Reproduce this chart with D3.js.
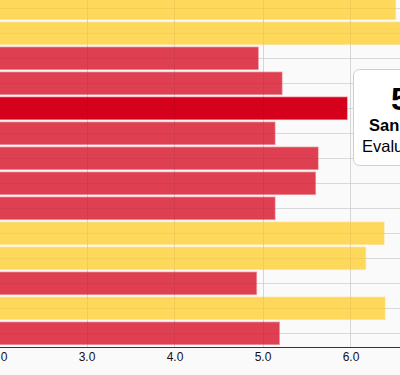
<!DOCTYPE html>
<html>
<head>
<meta charset="utf-8">
<script src="https://cdn.jsdelivr.net/npm/d3@7"></script>
<style>
  html, body { margin: 0; padding: 0; background: #fafafa; overflow: hidden; }
  svg { display: block; font-family: "Liberation Sans", Arial, Helvetica, sans-serif; }
</style>
</head>
<body>
<svg id="chart" width="400" height="375"></svg>
<script>
// ---- data ----
const categories = ["Row 1","Row 2","Row 3","Row 4","Row 5","Row 6","Row 7",
                    "Row 8","Row 9","Row 10","Row 11","Row 12","Row 13","Row 14"];
const values = [6.51, 6.75, 4.95, 5.22, 5.96, 5.14, 5.63, 5.60, 5.14, 6.38, 6.17, 4.93, 6.39, 5.19];
const groups = ["yellow","yellow","red","red","red","red","red","red","red","yellow","yellow","red","yellow","red"];
const highlighted = "Row 5";
const tickValues = [2, 3, 4, 5, 6];
const tooltipValue = "5.96";
const tooltipName = "San Francisco";
const tooltipLabel = "Evaluation score";

const colors = { yellow: "#fdd85b", red: "#de4052", highlight: "#d6001c" };

const svg = d3.select("#chart");

const x = d3.scaleLinear().domain([0, 7]).range([-177.5, 438.5]);
const y = d3.scaleBand().domain(categories).range([-4.2, 345.8])
  .paddingInner(0.12).paddingOuter(0.06);

// vertical grid
svg.append("g").selectAll("line").data(tickValues).join("line")
  .attr("x1", d => Math.round(x(d)) + 0.5).attr("x2", d => Math.round(x(d)) + 0.5)
  .attr("y1", 0).attr("y2", 347)
  .attr("stroke", "#e2e2e2").attr("stroke-width", 1);

// horizontal grid at band centers
svg.append("g").selectAll("line").data(categories).join("line")
  .attr("x1", 0).attr("x2", 400)
  .attr("y1", d => Math.round(y(d) + y.bandwidth() / 2) + 0.5)
  .attr("y2", d => Math.round(y(d) + y.bandwidth() / 2) + 0.5)
  .attr("stroke", "#e2e2e2").attr("stroke-width", 1);

// bars
const data = categories.map((c, i) => ({ c, v: values[i], g: groups[i] }));
svg.append("g").selectAll("rect").data(data).join("rect")
  .attr("x", x(0))
  .attr("y", d => y(d.c))
  .attr("width", d => x(d.v) - x(0))
  .attr("height", y.bandwidth())
  .attr("fill", d => d.c === highlighted ? colors.highlight : colors[d.g])
  .attr("stroke", d => d.c === highlighted ? colors.highlight : colors[d.g])
  .attr("stroke-opacity", 0.45)
  .attr("stroke-width", 1.5);

// grid seen through bars
svg.append("g").selectAll("line").data(tickValues).join("line")
  .attr("x1", d => Math.round(x(d)) + 0.5).attr("x2", d => Math.round(x(d)) + 0.5)
  .attr("y1", 0).attr("y2", 347)
  .attr("stroke", "#000").attr("stroke-opacity", 0.05);
svg.append("g").selectAll("line").data(categories).join("line")
  .attr("x1", 0).attr("x2", 400)
  .attr("y1", d => Math.round(y(d) + y.bandwidth() / 2) + 0.5)
  .attr("y2", d => Math.round(y(d) + y.bandwidth() / 2) + 0.5)
  .attr("stroke", "#000").attr("stroke-opacity", 0.04);

// x axis
const axis = svg.append("g").attr("transform", "translate(0,347)")
  .call(d3.axisBottom(x).tickValues(tickValues).tickFormat(d3.format(".1f")).tickSize(0).tickPadding(5));
axis.select(".domain").attr("stroke", "#333").attr("d", "M-10,0.5H410");
axis.selectAll("text").attr("font-size", 12).attr("fill", "#111")
  .attr("font-family", "'Liberation Sans', Arial, sans-serif");

// tooltip
const tip = svg.append("g");
tip.append("rect").attr("x", 353.5).attr("y", 69.5).attr("width", 150).attr("height", 96)
  .attr("rx", 6).attr("fill", "#fff").attr("stroke", "#cfcfcf");
tip.append("text").attr("x", 391).attr("y", 109.5).attr("font-size", 32).attr("font-weight", "bold")
  .attr("fill", "#000").text(tooltipValue);
tip.append("text").attr("x", 369).attr("y", 130.5).attr("font-size", 16.5).attr("font-weight", "bold")
  .attr("fill", "#000").text(tooltipName);
tip.append("text").attr("x", 362).attr("y", 151.5).attr("font-size", 16.5)
  .attr("fill", "#000").text(tooltipLabel);
</script>
</body>
</html>
